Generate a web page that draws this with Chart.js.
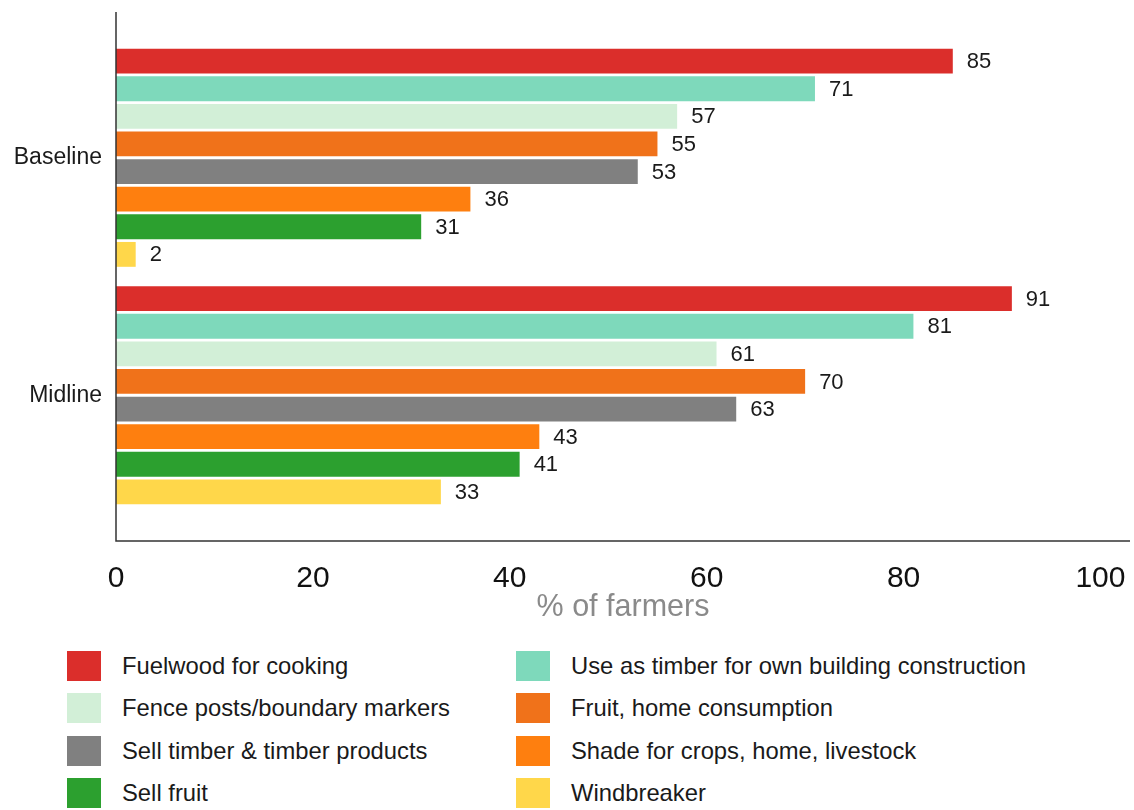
<!DOCTYPE html>
<html>
<head>
<meta charset="utf-8">
<script src="https://cdn.jsdelivr.net/npm/chart.js@4/dist/chart.umd.min.js"></script>
<style>
  body { margin: 0; background: #fff; font-family: "Liberation Sans", Arial, sans-serif; }
  #wrap { position: relative; width: 1134px; height: 810px; }
  #chart { position: absolute; left: 0; top: 0; }
  .lg-box { position: absolute; width: 34px; height: 30px; }
  .lg-text { position: absolute; font-size: 23.8px; color: #1a1a1a; line-height: 30px; white-space: nowrap; }
</style>
</head>
<body>
<div id="wrap">
  <canvas id="chart" width="1134" height="630"></canvas>
  <div id="legend"></div>
</div>
<script>
// data
const groups = ['Baseline', 'Midline'];
const uses = [
  'Fuelwood for cooking',
  'Use as timber for own building construction',
  'Fence posts/boundary markers',
  'Fruit, home consumption',
  'Sell timber & timber products',
  'Shade for crops, home, livestock',
  'Sell fruit',
  'Windbreaker'
];
const baseline = [85, 71, 57, 55, 53, 36, 31, 2];
const midline  = [91, 81, 61, 70, 63, 43, 41, 33];
const colors = ['#DB2E2B', '#7ED9BB', '#D2EFD7', '#F0721A', '#808080', '#FE7F0F', '#2CA02F', '#FFD74A'];
const xTicks = [0, 20, 40, 60, 80, 100];

// axis lines stick out a bit past the category bands
const AXIS_EXT = 27;

const datasets = uses.map((name, i) => ({
  label: name,
  data: [baseline[i], midline[i]],
  backgroundColor: colors[i],
  borderWidth: 0,
  categoryPercentage: 0.93,
  barPercentage: 0.9
}));

// value labels right of each bar
const valueLabels = {
  id: 'valueLabels',
  afterDatasetsDraw(chart) {
    const ctx = chart.ctx;
    ctx.save();
    ctx.font = '22px "Liberation Sans", Arial, sans-serif';
    ctx.fillStyle = '#1a1a1a';
    ctx.textAlign = 'left';
    ctx.textBaseline = 'middle';
    chart.data.datasets.forEach((ds, di) => {
      const meta = chart.getDatasetMeta(di);
      meta.data.forEach((bar, j) => {
        ctx.fillText(String(ds.data[j]), bar.x + 14, bar.y + 1);
      });
    });
    ctx.restore();
  }
};

// L-shaped axis frame
const axisLines = {
  id: 'axisLines',
  afterDraw(chart) {
    const { ctx, chartArea: a } = chart;
    const bottom = a.bottom + AXIS_EXT;
    ctx.save();
    ctx.strokeStyle = '#333';
    ctx.lineWidth = 1.5;
    ctx.beginPath();
    ctx.moveTo(a.left, a.top - AXIS_EXT);
    ctx.lineTo(a.left, bottom);
    ctx.lineTo(a.right, bottom);
    ctx.stroke();
    ctx.restore();
  }
};

new Chart(document.getElementById('chart'), {
  type: 'bar',
  data: { labels: groups, datasets },
  plugins: [valueLabels, axisLines],
  options: {
    indexAxis: 'y',
    responsive: false,
    animation: false,
    layout: { autoPadding: false, padding: { top: 39, right: 4, left: 0, bottom: 0 } },
    plugins: { legend: { display: false }, tooltip: { enabled: false } },
    scales: {
      y: {
        afterFit(s) { s.width = 116; },
        grid: { display: false, drawTicks: false },
        border: { display: false },
        ticks: {
          padding: 14,
          color: '#1a1a1a',
          font: { family: '"Liberation Sans", Arial, sans-serif', size: 23 }
        }
      },
      x: {
        min: 0,
        max: 103,
        afterFit(s) { s.height = 116; },
        // invisible tick marks only push the labels below the frame line
        grid: { display: false, drawTicks: true, tickLength: 18 + AXIS_EXT },
        border: { display: false },
        ticks: {
          stepSize: 20,
          includeBounds: false,
          padding: 2,
          maxRotation: 0,
          color: '#111',
          font: { family: '"Liberation Sans", Arial, sans-serif', size: 30 },
          callback: v => xTicks.includes(v) ? String(v) : ''
        },
        title: {
          display: true,
          text: '% of farmers',
          color: '#8a8a8a',
          padding: { top: 0, bottom: 4 },
          font: { family: '"Liberation Sans", Arial, sans-serif', size: 30.5 }
        }
      }
    }
  }
});

// legend in two columns
const legend = document.getElementById('legend');
const colX = [[67, 122], [516, 571]];
const rowTop = [651, 693, 736, 778];
uses.forEach((name, i) => {
  const c = colX[i % 2];
  const top = rowTop[Math.floor(i / 2)];
  const box = document.createElement('div');
  box.className = 'lg-box';
  box.style.left = c[0] + 'px';
  box.style.top = top + 'px';
  box.style.background = colors[i];
  const txt = document.createElement('div');
  txt.className = 'lg-text';
  txt.style.left = c[1] + 'px';
  txt.style.top = top + 'px';
  txt.textContent = name;
  legend.appendChild(box);
  legend.appendChild(txt);
});
</script>
</body>
</html>
